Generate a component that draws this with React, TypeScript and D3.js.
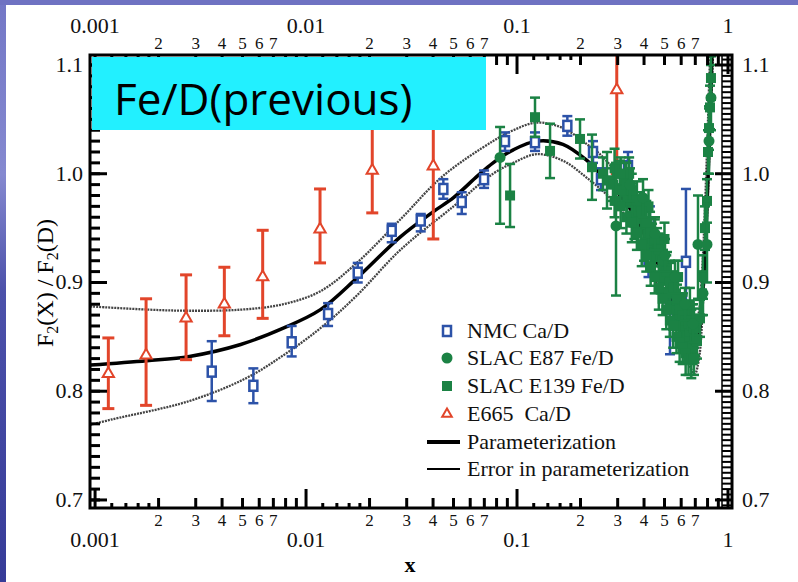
import React from "react";
import * as d3 from "d3";

const W = 798;
const H = 582;

// ---------- data ----------
// E665 Ca/D (red open triangles)
const e665X = [0.001156, 0.001745, 0.0027, 0.0041, 0.00623, 0.01165, 0.0206, 0.0401, 0.297];
const e665Y = [0.816, 0.833, 0.867, 0.88, 0.905, 0.949, 1.003, 1.007, 1.077];
const e665Lo = [0.784, 0.787, 0.829, 0.851, 0.867, 0.918, 0.964, 0.94, 1.0];
const e665Hi = [0.849, 0.885, 0.907, 0.914, 0.948, 0.986, 1.06, 1.06, 1.12];

// NMC Ca/D (blue open squares)
const nmcX = [0.003573, 0.005627, 0.00855, 0.01272, 0.01758, 0.02547, 0.03497, 0.04475, 0.0547, 0.0698, 0.0877, 0.1217, 0.1732, 0.2292, 0.25, 0.3357, 0.4266, 0.42, 0.531, 0.632];
const nmcY = [0.818, 0.805, 0.845, 0.871, 0.909, 0.9475, 0.957, 0.986, 0.974, 0.995, 1.03, 1.029, 1.044, 1.02, 0.995, 1.007, 0.955, 0.92, 0.876, 0.919];
const nmcLo = [0.791, 0.789, 0.832, 0.86, 0.9, 0.937, 0.947, 0.977, 0.963, 0.987, 1.021, 1.021, 1.035, 1.01, 0.985, 0.99, 0.94, 0.905, 0.834, 0.88];
const nmcHi = [0.846, 0.821, 0.86, 0.881, 0.918, 0.954, 0.963, 0.995, 0.983, 1.003, 1.038, 1.038, 1.053, 1.03, 1.005, 1.02, 0.97, 0.935, 0.895, 0.986];

// SLAC E87 Fe/D (green filled circles)
const e87X = [0.0831, 0.2946, 0.3432, 0.3956, 0.4508, 0.5029, 0.5609, 0.6255, 0.6826, 0.7208, 0.7613, 0.7953, 0.8128, 0.8305];
const e87Y = [1.015, 0.952, 0.99, 0.978, 0.945, 0.925, 0.905, 0.88, 0.862, 0.935, 0.89, 0.935, 1.03, 1.07];
const e87Lo = [0.954, 0.888, 0.975, 0.96, 0.93, 0.91, 0.89, 0.865, 0.845, 0.885, 0.87, 0.9, 1.0, 1.04];
const e87Hi = [1.043, 1.01, 1.005, 0.995, 0.96, 0.94, 0.92, 0.895, 0.88, 0.98, 0.91, 0.975, 1.06, 1.1];

// SLAC E139 Fe/D (green filled squares)
const e139X = [0.0927, 0.1217, 0.1434, 0.1989, 0.2267, 0.2556, 0.267, 0.2851, 0.3077, 0.3077, 0.3251, 0.3323, 0.34, 0.3546, 0.36, 0.3746, 0.3828, 0.4, 0.4044, 0.42, 0.4271, 0.4365, 0.44, 0.4609, 0.4762, 0.48, 0.4921, 0.5, 0.5141, 0.52, 0.5311, 0.5488, 0.56, 0.5668, 0.5731, 0.58, 0.5922, 0.6, 0.6118, 0.6322, 0.64, 0.6604, 0.66, 0.675, 0.68, 0.6975, 0.7129, 0.7368, 0.753, 0.7613, 0.778, 0.7953, 0.804, 0.8128, 0.8216, 0.8305,
  0.29, 0.31, 0.33, 0.35, 0.37, 0.39, 0.41, 0.43, 0.45, 0.47, 0.49, 0.51, 0.53, 0.55, 0.57, 0.59, 0.61, 0.63, 0.65, 0.67, 0.69,
  0.29, 0.31, 0.33, 0.35, 0.37, 0.39, 0.41, 0.43, 0.45, 0.47, 0.49, 0.51, 0.53, 0.55, 0.57, 0.59, 0.61, 0.63, 0.65, 0.67, 0.69];
const e139Y = [0.98, 1.052, 1.021, 1.032, 1.006, 1.0, 0.994, 0.99, 0.985, 1.0, 0.995, 0.975, 1.0, 0.978, 0.955, 0.965, 0.97, 0.935, 0.955, 0.97, 0.95, 0.94, 0.925, 0.935, 0.925, 0.905, 0.915, 0.94, 0.913, 0.89, 0.905, 0.895, 0.875, 0.89, 0.883, 0.905, 0.871, 0.86, 0.875, 0.86, 0.85, 0.855, 0.88, 0.865, 0.84, 0.848, 0.846, 0.867, 0.89, 0.905, 0.95, 0.975, 1.02, 1.042, 1.061, 1.088,
  1.005, 1.0, 0.99, 0.985, 0.975, 0.965, 0.955, 0.945, 0.94, 0.93, 0.92, 0.91, 0.9, 0.895, 0.885, 0.875, 0.87, 0.865, 0.862, 0.86, 0.858,
  0.975, 0.97, 0.96, 0.955, 0.945, 0.935, 0.925, 0.915, 0.905, 0.895, 0.885, 0.875, 0.865, 0.86, 0.85, 0.845, 0.84, 0.835, 0.83, 0.83, 0.83];
const e139Err = [0.029, 0.018, 0.025, 0.018, 0.03, 0.015, 0.026, 0.015, 0.015, 0.012, 0.015, 0.013, 0.015, 0.013, 0.015, 0.015, 0.013, 0.015, 0.015, 0.015, 0.015, 0.014, 0.015, 0.015, 0.015, 0.015, 0.015, 0.015, 0.015, 0.015, 0.015, 0.015, 0.015, 0.015, 0.015, 0.015, 0.015, 0.015, 0.015, 0.015, 0.015, 0.015, 0.015, 0.015, 0.015, 0.015, 0.016, 0.017, 0.02, 0.02, 0.02, 0.02, 0.02, 0.02, 0.02, 0.02,
  0.018, 0.015, 0.02, 0.015, 0.018, 0.015, 0.02, 0.015, 0.018, 0.015, 0.02, 0.015, 0.018, 0.015, 0.02, 0.015, 0.018, 0.015, 0.02, 0.015, 0.018,
  0.015, 0.02, 0.015, 0.018, 0.015, 0.02, 0.015, 0.018, 0.015, 0.02, 0.015, 0.018, 0.015, 0.02, 0.015, 0.018, 0.015, 0.02, 0.015, 0.018, 0.015];

// Parameterization and its error band
const parX = [0.00095, 0.00176, 0.0028, 0.0049, 0.0078, 0.0117, 0.0174, 0.028, 0.04, 0.05, 0.065, 0.077, 0.096, 0.124, 0.165, 0.215, 0.247, 0.343, 0.476, 0.592, 0.66, 0.7, 0.737, 0.77, 0.795, 0.822, 0.84];
const parY = [0.824, 0.828, 0.832, 0.843, 0.858, 0.875, 0.904, 0.942, 0.965, 0.978, 0.998, 1.01, 1.022, 1.03, 1.027, 1.012, 1.0, 0.968, 0.913, 0.865, 0.845, 0.842, 0.86, 0.91, 0.97, 1.05, 1.11];
const upX = [0.00095, 0.0018, 0.0028, 0.0049, 0.0078, 0.0117, 0.0174, 0.028, 0.0446, 0.077, 0.096, 0.124, 0.165, 0.215, 0.247, 0.343, 0.476, 0.592, 0.66, 0.7, 0.72, 0.753, 0.778, 0.804, 0.822];
const upY = [0.878, 0.875, 0.874, 0.875, 0.88, 0.892, 0.918, 0.958, 0.998, 1.03, 1.04, 1.047, 1.042, 1.027, 1.018, 0.985, 0.935, 0.888, 0.87, 0.868, 0.87, 0.91, 0.97, 1.05, 1.11];
const loX = [0.00095, 0.0012, 0.0028, 0.0052, 0.0078, 0.0117, 0.0174, 0.028, 0.05, 0.077, 0.096, 0.124, 0.165, 0.215, 0.275, 0.343, 0.412, 0.527, 0.62, 0.68, 0.6975, 0.729, 0.761, 0.795, 0.83, 0.85];
const loY = [0.769, 0.774, 0.791, 0.812, 0.833, 0.858, 0.888, 0.93, 0.97, 1.0, 1.01, 1.018, 1.012, 0.996, 0.978, 0.955, 0.92, 0.871, 0.835, 0.818, 0.816, 0.83, 0.88, 0.96, 1.06, 1.11];

// axes
const xDecades = [0.001, 0.01, 0.1];
const xMajor = [0.001, 0.01, 0.1, 1];
const xMajorLabels = ["0.001", "0.01", "0.1", "1"];
const xMinorMult = [2, 3, 4, 5, 6, 7, 8, 9];
const xFineMult = [1.2, 1.4, 1.6, 1.8];
const xMinorLabelMult = [2, 3, 4, 5, 6, 7];
const yMajor = [0.7, 0.8, 0.9, 1.0, 1.1];
const yMajorLabels = ["0.7", "0.8", "0.9", "1.0", "1.1"];

const legendItems = ["NMC Ca/D", "SLAC E87 Fe/D", "SLAC E139 Fe/D", "E665  Ca/D", "Parameterization", "Error in parameterization"];

const RED = "#e2452a";
const BLUE = "#2c52a8";
const GREEN = "#1b8244";
const SERIF = "'Liberation Serif', 'Times New Roman', serif";

export default function App() {
  const L = 90, R = 732, T = 55, B = 508;
  const x = d3.scaleLog().domain([Math.pow(10, -3.024), Math.pow(10, 0.019)]).range([L, R]);
  const y = d3.scaleLinear().domain([0.6926, 1.1092]).range([B, T]);

  const line = d3.line<[number, number]>().x(d => x(d[0])).y(d => y(d[1])).curve(d3.curveCatmullRom.alpha(0.5));
  const zip = (a: number[], b: number[]) => a.map((v, i) => [v, b[i]] as [number, number]);

  const minorX = xDecades.flatMap(d => xMinorMult.map(m => d * m));
  const fineX = xDecades.flatMap(d => xFineMult.map(m => d * m));
  const minorLabX = xDecades.flatMap(d => xMinorLabelMult.map(m => ({ v: d * m, t: String(m) })));
  const yMinor = y.ticks(40);
  const yFine = y.ticks(80);

  const errBars = (xs: number[], lo: number[], hi: number[], color: string, cap: number, sw: number) =>
    xs.map((xv, i) => {
      const px = x(xv);
      return (
        <g key={i} stroke={color} strokeWidth={sw}>
          <line x1={px} x2={px} y1={y(lo[i])} y2={y(hi[i])} />
          <line x1={px - cap / 2} x2={px + cap / 2} y1={y(lo[i])} y2={y(lo[i])} />
          <line x1={px - cap / 2} x2={px + cap / 2} y1={y(hi[i])} y2={y(hi[i])} />
        </g>
      );
    });

  const tri = d3.symbol().type(d3.symbolTriangle).size(55)() as string;
  const triSmall = d3.symbol().type(d3.symbolTriangle).size(40)() as string;

  const e139Lo = e139Y.map((v, i) => v - e139Err[i]);
  const e139Hi = e139Y.map((v, i) => v + e139Err[i]);

  const legY = [331, 358, 386, 414, 442, 469];

  return (
    <div style={{ position: "fixed", left: 0, top: 0 }}>
      <svg width={W} height={H} style={{ display: "block" }}>
        <defs>
          <linearGradient id="bg" x1="0" y1="0" x2="0" y2="1">
            <stop offset="0" stopColor="#7377c6" />
            <stop offset="0.3" stopColor="#8589d0" />
            <stop offset="0.5" stopColor="#4c51aa" />
            <stop offset="1" stopColor="#363b98" />
          </linearGradient>
          <clipPath id="plot">
            <rect x={L} y={T} width={R - L} height={B - T} />
          </clipPath>
        </defs>
        <rect x={0} y={0} width={W} height={H} fill="url(#bg)" />
        <rect x={0} y={0} width={W} height={5} fill="#6f72c2" />
        <rect x={6} y={5} width={W - 6} height={H - 5} fill="#ffffff" />

        {/* data */}
        <g clipPath="url(#plot)">
          <path d={line(zip(upX, upY)) || ""} fill="none" stroke="#444" strokeWidth={2.3} strokeDasharray="2,1" />
          <path d={line(zip(loX, loY)) || ""} fill="none" stroke="#444" strokeWidth={2.3} strokeDasharray="2,1" />
          <path d={line(zip(parX, parY)) || ""} fill="none" stroke="#000" strokeWidth={3.5} />

          {errBars(e665X, e665Lo, e665Hi, RED, 12, 3)}
          {e665X.map((xv, i) => (
            <path key={i} d={tri} transform={`translate(${x(xv)},${y(e665Y[i])})`} fill="#fff" stroke={RED} strokeWidth={2} />
          ))}

          {errBars(nmcX, nmcLo, nmcHi, BLUE, 10, 2.5)}
          {nmcX.map((xv, i) => (
            <rect key={i} x={x(xv) - 4} y={y(nmcY[i]) - 5} width={8} height={10} fill="#fff" stroke={BLUE} strokeWidth={2.5} />
          ))}

          {errBars(e139X, e139Lo, e139Hi, GREEN, 10, 2.5)}
          {e139X.map((xv, i) => (
            <rect key={i} x={x(xv) - 5} y={y(e139Y[i]) - 5} width={10} height={10} fill={GREEN} />
          ))}

          {errBars(e87X, e87Lo, e87Hi, GREEN, 10, 2.5)}
          {e87X.map((xv, i) => (
            <circle key={i} cx={x(xv)} cy={y(e87Y[i])} r={5.5} fill={GREEN} />
          ))}
        </g>

        {/* ticks */}
        <g stroke="#000">
          {xMajor.map((v, i) => (
            <g key={"xm" + i} strokeWidth={3}>
              <line x1={x(v)} x2={x(v)} y1={B} y2={B - 19} />
              <line x1={x(v)} x2={x(v)} y1={T} y2={T + 19} />
            </g>
          ))}
          {minorX.map((v, i) => (
            <g key={"xn" + i} strokeWidth={3}>
              <line x1={x(v)} x2={x(v)} y1={B} y2={B - 10} />
              <line x1={x(v)} x2={x(v)} y1={T} y2={T + 10} />
            </g>
          ))}
          {fineX.map((v, i) => (
            <g key={"xf" + i} strokeWidth={3}>
              <line x1={x(v)} x2={x(v)} y1={B} y2={B - 5} />
              <line x1={x(v)} x2={x(v)} y1={T} y2={T + 5} />
            </g>
          ))}
          {yMinor.map((v, i) => (
            <line key={"yl" + i} x1={L} x2={L + 10} y1={y(v)} y2={y(v)} strokeWidth={3} />
          ))}
          {yMajor.map((v, i) => (
            <g key={"ym" + i} strokeWidth={3}>
              <line x1={L} x2={L + 17} y1={y(v)} y2={y(v)} />
              <line x1={R} x2={R - 17} y1={y(v)} y2={y(v)} />
            </g>
          ))}
          {yFine.map((v, i) => (
            <line key={"yr" + i} x1={R} x2={R - 10} y1={y(v)} y2={y(v)} strokeWidth={2} />
          ))}
          <line x1={R - 10} x2={R - 10} y1={T} y2={B} strokeWidth={1.5} />
          <rect x={L} y={T} width={R - L} height={B - T} fill="none" strokeWidth={3} />
        </g>

        {/* title box */}
        <rect x={92} y={57} width={394} height={73} fill="#22f0ff" />
        <text x={114} y={115} fontFamily="'Open Sans', sans-serif" fontSize={44} fill="#000">Fe/D(previous)</text>

        {/* tick labels */}
        <g fontFamily={SERIF} fill="#111">
          {xMajor.map((v, i) => (
            <g key={"xl" + i} fontSize={22} textAnchor="middle">
              <text x={x(v)} y={33}>{xMajorLabels[i]}</text>
              <text x={x(v)} y={547}>{xMajorLabels[i]}</text>
            </g>
          ))}
          {minorLabX.map((d, i) => (
            <g key={"xs" + i} fontSize={17} textAnchor="middle">
              <text x={x(d.v)} y={49}>{d.t}</text>
              <text x={x(d.v)} y={526}>{d.t}</text>
            </g>
          ))}
          {yMajor.map((v, i) => (
            <g key={"yt" + i} fontSize={22}>
              <text x={83} y={y(v) + 7} textAnchor="end">{yMajorLabels[i]}</text>
              <text x={742} y={y(v) + 7}>{yMajorLabels[i]}</text>
            </g>
          ))}
        </g>

        {/* axis titles */}
        <text x={410} y={572} fontFamily={SERIF} fontSize={22} fontWeight="bold" textAnchor="middle">x</text>
        <text transform="translate(53,283) rotate(-90)" fontFamily={SERIF} fontSize={24} textAnchor="middle">
          F<tspan fontSize={16} dy={5}>2</tspan><tspan dy={-5}>(X) / F</tspan><tspan fontSize={16} dy={5}>2</tspan><tspan dy={-5}>(D)</tspan>
        </text>

        {/* legend */}
        <g fontFamily={SERIF} fontSize={22} fill="#111">
          <rect x={443} y={legY[0] - 5} width={8} height={10} fill="#fff" stroke={BLUE} strokeWidth={2.5} />
          <circle cx={447} cy={legY[1]} r={5.5} fill={GREEN} />
          <rect x={442} y={legY[2] - 5} width={10} height={10} fill={GREEN} />
          <path d={triSmall} transform={`translate(447,${legY[3]})`} fill="#fff" stroke={RED} strokeWidth={2} />
          <line x1={427} x2={460} y1={legY[4]} y2={legY[4]} stroke="#000" strokeWidth={4} />
          <line x1={427} x2={460} y1={legY[5]} y2={legY[5]} stroke="#000" strokeWidth={2} />
          {legendItems.map((t, i) => (
            <text key={t} x={467} y={legY[i] + 7} style={{ whiteSpace: "pre" }}>{t}</text>
          ))}
        </g>
      </svg>
    </div>
  );
}
